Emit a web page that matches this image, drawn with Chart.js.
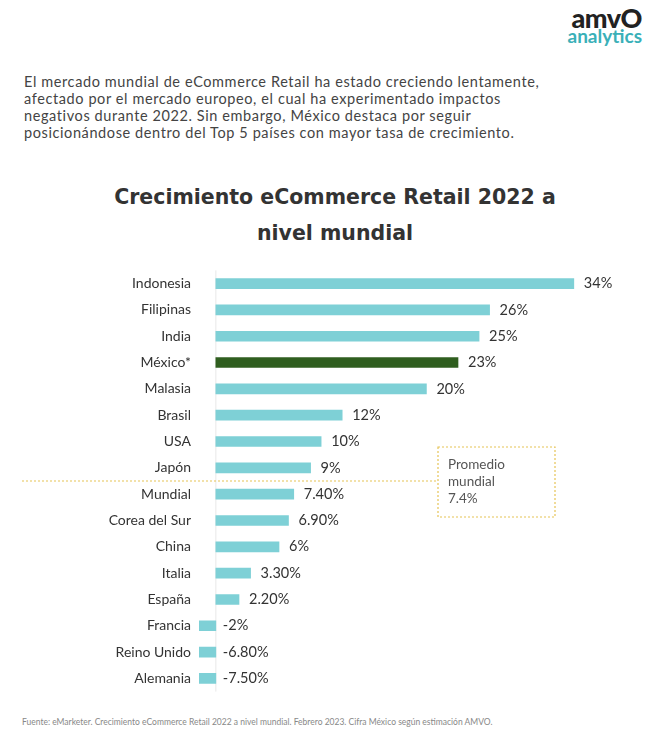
<!DOCTYPE html>
<html><head><meta charset="utf-8">
<script src="https://cdn.jsdelivr.net/npm/chart.js@4"></script>
<style>
body{margin:0;width:670px;height:752px;background:#fff;font-family:Lato,"Noto Sans",sans-serif;position:relative;overflow:hidden;color:#333}
#logo{position:absolute;right:28px;top:8px;text-align:right;line-height:20px}
#logo .a{font-size:27px;font-weight:900;color:#222;letter-spacing:-0.5px}
#logo .b{font-size:19px;font-weight:700;color:#3ab0b8;margin-top:-2px}
#intro{position:absolute;left:24px;top:73px;width:640px;font-size:14.5px;line-height:17px;color:#444;letter-spacing:0.6px;white-space:nowrap}
#title{position:absolute;left:0;width:670px;top:179px;text-align:center;font-family:"DejaVu Sans",sans-serif;font-size:20.5px;font-weight:700;line-height:36px;color:#333}
#foot{position:absolute;left:22px;top:716px;font-size:8.5px;color:#888;line-height:12px;width:540px}
#wrap{position:absolute;left:0;top:262px;width:670px;height:438px}
</style></head><body>
<div id="logo"><div class="a">amvO</div><div class="b">analytics</div></div>
<div id="intro">El mercado mundial de eCommerce Retail ha estado creciendo lentamente,<br>afectado por el mercado europeo, el cual ha experimentado impactos<br>negativos durante 2022. Sin embargo, México destaca por seguir<br>posicionándose dentro del Top 5 países con mayor tasa de crecimiento.</div>
<div id="title">Crecimiento eCommerce Retail 2022 a<br>nivel mundial</div>
<div id="wrap"><canvas id="c"></canvas></div>
<div id="foot">Fuente: eMarketer. Crecimiento eCommerce Retail 2022 a nivel mundial. Febrero 2023. Cifra México según estimación AMVO.</div>
<script>
const categories=["Indonesia","Filipinas","India","México*","Malasia","Brasil","USA","Japón","Mundial","Corea del Sur","China","Italia","España","Francia","Reino Unido","Alemania"];
const values=[34,26,25,23,20,12,10,9,7.4,6.9,6,3.3,2.2,-2,-6.8,-7.5];
const valueLabels=["34%","26%","25%","23%","20%","12%","10%","9%","7.40%","6.90%","6%","3.30%","2.20%","-2%","-6.80%","-7.50%"];
const highlight="México*";
const averageText=["Promedio","mundial","7.4%"];
const teal="#7ed0d6", green="#2f5e1f";
const extras={id:'extras',
 beforeDatasetsDraw(ch){
  const {ctx,scales:{x},chartArea:a}=ch;const x0=x.getPixelForValue(0);
  ctx.save();ctx.strokeStyle='#e8e8e8';ctx.lineWidth=1;ctx.beginPath();ctx.moveTo(x0,a.top);ctx.lineTo(x0,a.bottom);ctx.stroke();ctx.restore();
 },
 afterDatasetsDraw(ch){
  const {ctx,scales:{x,y}}=ch; const m=ch.getDatasetMeta(0);
  ctx.save();ctx.font='14.5px Lato, "Noto Sans", sans-serif';ctx.fillStyle='#333';ctx.textBaseline='middle';
  m.data.forEach((b,i)=>{const px=values[i]<0?x.getPixelForValue(0)+7:b.x+10;ctx.fillText(valueLabels[i],px,b.y);});
  const iy=(y.getPixelForValue(7)+y.getPixelForValue(8))/2;
  ctx.strokeStyle='#e6c455';ctx.setLineDash([2,2]);ctx.lineWidth=1.2;
  ctx.beginPath();ctx.moveTo(22,iy);ctx.lineTo(438,iy);ctx.stroke();
  ctx.strokeRect(438,iy-34,117,70);
  ctx.setLineDash([]);ctx.fillStyle='#555';ctx.font='13.5px Lato, "Noto Sans", sans-serif';ctx.textBaseline='alphabetic';
  averageText.forEach((t,k)=>ctx.fillText(t,448,iy-12+k*17));
  ctx.restore();
 }};
new Chart(document.getElementById('c'),{type:'bar',
 data:{labels:categories,datasets:[{data:values,backgroundColor:categories.map(c=>c===highlight?green:teal),barThickness:10}]},
 options:{indexAxis:'y',responsive:true,maintainAspectRatio:false,animation:false,
  layout:{padding:{right:33,top:0,bottom:0}},
  plugins:{legend:{display:false},tooltip:{enabled:false}},
  scales:{x:{display:false,min:-1.6,max:40},
   y:{afterFit(s){s.width=199},grid:{display:false},border:{display:false},
     ticks:{color:'#333',padding:0,font:{size:14,family:'Lato, "Noto Sans", sans-serif'}}}}},
 plugins:[extras]});
</script></body></html>
